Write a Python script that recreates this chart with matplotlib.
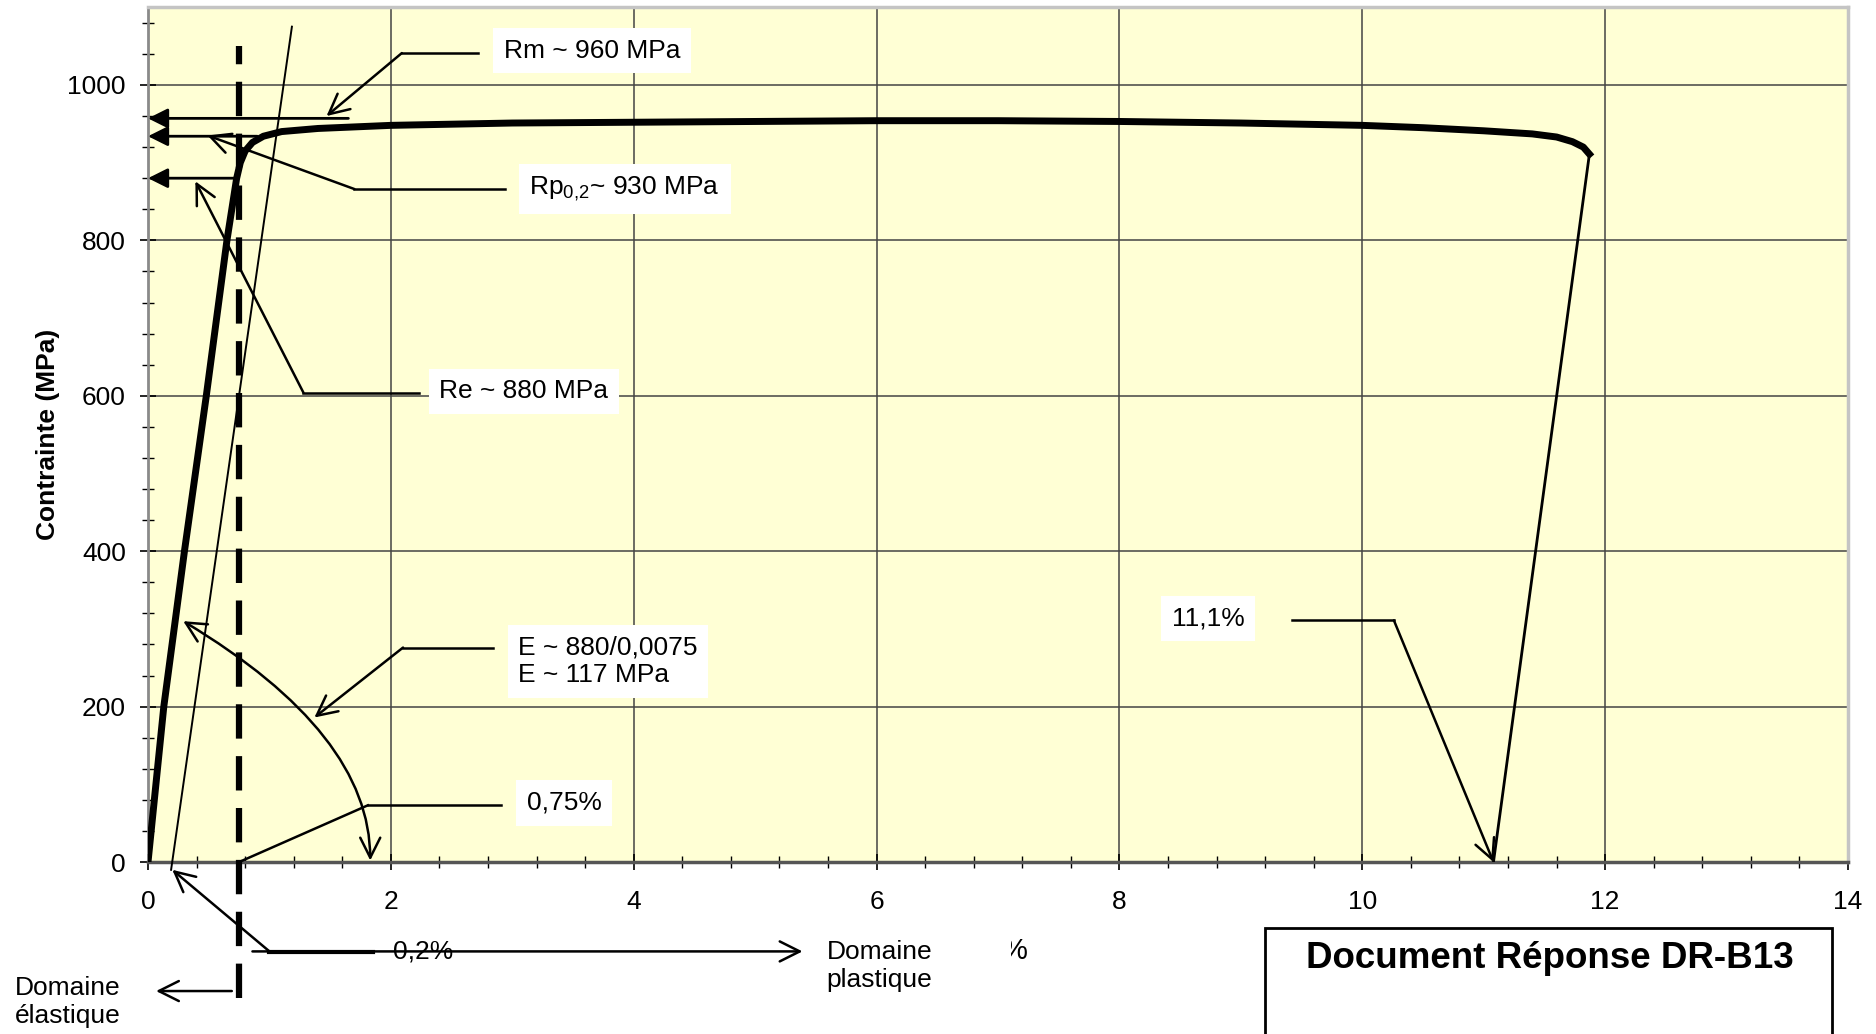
import matplotlib
matplotlib.use('Agg')
import matplotlib.pyplot as plt
from matplotlib.patches import Rectangle
from matplotlib.ticker import MultipleLocator

plt.rcParams['font.family'] = ['Liberation Sans', 'DejaVu Sans']
plt.rcParams['mathtext.default'] = 'regular'

# courbe de traction (déformation en %, contrainte en MPa)
strain = [0, 0.13, 0.30, 0.48, 0.65, 0.70, 0.73, 0.76, 0.80, 0.86, 0.95, 1.1, 1.4, 2.0,
          3, 4, 5, 6, 7, 8, 9, 10, 10.5, 11, 11.4, 11.6, 11.73, 11.82, 11.87]
stress = [0, 200, 400, 600, 800, 850, 880, 900, 915, 926, 934, 940, 944, 948,
          951, 952, 953, 954, 954, 953, 951, 948, 945, 941, 937, 933, 927, 920, 911]

# droite parallèle décalée de 0,2 % et décharge après rupture
offset_strain = [0.19, 1.185]
offset_stress = [-10, 1075]
unload_strain = [11.87, 11.08]
unload_stress = [911, 0]

limit_strain = 0.75
Rm, Rp, Re = 957, 934, 880
A_pct = 11.08

fig = plt.figure(figsize=(18.76, 10.34), dpi=100)
ax = fig.add_axes([0.0789, 0.1663, 0.9062, 0.8267])
ax.set_facecolor('#FFFFD5')
ax.set_xlim(0, 14)
ax.set_ylim(0, 1100)
ax.xaxis.set_major_locator(MultipleLocator(2))
ax.xaxis.set_minor_locator(MultipleLocator(0.4))
ax.yaxis.set_major_locator(MultipleLocator(200))
ax.yaxis.set_minor_locator(MultipleLocator(40))
ax.set_yticks([0, 200, 400, 600, 800, 1000])
ax.tick_params(which='major', direction='inout', length=12, width=1.2, labelsize=19)
ax.tick_params(which='minor', direction='inout', length=8, width=1)
ax.tick_params(axis='x', pad=14)
ax.tick_params(axis='y', pad=10)
ax.grid(True, which='major', color='#444444', lw=1.1)
ax.set_axisbelow(True)
for side in ['top', 'right']:
    ax.spines[side].set_color('#c4c4c4')
    ax.spines[side].set_linewidth(2.5)
ax.spines['left'].set_color('#8a8a8a')
ax.spines['left'].set_linewidth(2)
ax.spines['bottom'].set_color('#555555')
ax.spines['bottom'].set_linewidth(2.5)

ax.set_ylabel('Contrainte (MPa)', fontsize=19, fontweight='bold')
ax.yaxis.set_label_coords(-0.052, 0.5)

# courbes
ax.plot(strain, stress, color='black', lw=5, zorder=5)
ax.plot(offset_strain, offset_stress, color='black', lw=1.4, zorder=4, clip_on=False)
ax.plot(unload_strain, unload_stress, color='black', lw=2, zorder=4)
ax.plot([limit_strain, limit_strain], [-175, 1050], color='black', lw=4.5,
        ls=(0, (5.5, 2.8)), zorder=6, clip_on=False)

# flèches horizontales vers l'axe des contraintes
solid = dict(arrowstyle='-|>,head_length=0.6,head_width=0.3', color='black', lw=2,
             mutation_scale=20, shrinkA=0, shrinkB=0)
for x0, y0 in [(1.65, Rm), (0.9, Rp), (0.72, Re)]:
    ax.annotate('', xy=(0, y0), xytext=(x0, y0), arrowprops=solid, zorder=6)

opened = dict(arrowstyle='->,head_length=0.6,head_width=0.3', color='black', lw=1.8,
              mutation_scale=24, shrinkA=0, shrinkB=0)
box = dict(boxstyle='square,pad=0.4', fc='white', ec='none')


def callout(text, txy, line_x, tip, arrow=True):
    ax.text(txy[0], txy[1], text, fontsize=19, va='center', ha='left', bbox=box, zorder=7)
    ax.plot(line_x, [tip[2], tip[2]], color='black', lw=1.8, zorder=6)
    if arrow:
        ax.annotate('', xy=tip[:2], xytext=(line_x[1], tip[2]), arrowprops=opened, zorder=6)
    else:
        ax.plot([line_x[1], tip[0]], [tip[2], tip[1]], color='black', lw=1.8, zorder=6)


callout('Rm ~ 960 MPa', (2.93, 1044), [2.72, 2.09], (1.47, 960, 1041))
callout('Rp$_{0{,}2}$~ 930 MPa', (3.14, 866), [2.94, 1.70], (0.49, 935, 866))
callout('Re ~ 880 MPa', (2.40, 606), [2.23, 1.28], (0.39, 876, 604))
callout('E ~ 880/0,0075\nE ~ 117 MPa', (3.05, 258), [2.84, 2.10], (1.37, 186, 276))
callout('0,75%', (3.12, 76), [2.91, 1.81], (0.75, 0, 73), arrow=False)
callout('11,1%', (8.43, 313), [9.42, 10.26], (A_pct, 0, 311))

# arc du module d'élasticité
ax.annotate('', xy=(1.83, 2), xytext=(0.29, 310),
            arrowprops=dict(arrowstyle='<->,head_length=0.6,head_width=0.3', color='black',
                            lw=1.8, mutation_scale=24, shrinkA=0, shrinkB=0,
                            connectionstyle='angle3,angleA=-31,angleB=90'), zorder=6)

# légendes sous l'axe
ax.annotate('', xy=(0.2, -10), xytext=(1.0, -115), arrowprops=opened, annotation_clip=False)
ax.annotate('', xy=(5.39, -115), xytext=(0.86, -115), arrowprops=opened, annotation_clip=False)
ax.plot([1.0, 1.85], [-116, -116], color='black', lw=3, clip_on=False)
ax.text(2.02, -115, '0,2%', fontsize=19, ha='left', va='center', clip_on=False)
ax.text(5.59, -100, 'Domaine\nplastique', fontsize=19, ha='left', va='top', clip_on=False)
ax.text(-1.1, -147, 'Domaine\nélastique', fontsize=19, ha='left', va='top', clip_on=False)
ax.annotate('', xy=(0.066, -166), xytext=(0.69, -166), arrowprops=opened, annotation_clip=False)

pct = fig.text(1002 / 1876, 1 - 951 / 1034, '%', fontsize=21, ha='left', va='center')
pct.set_clip_path(Rectangle((1011 / 1876, 0.0), 0.02, 0.2, transform=fig.transFigure))

# cartouche
fig.patches.append(Rectangle((1265 / 1876, -0.01), 567 / 1876, 0.1125, transform=fig.transFigure,
                             fill=False, ec='black', lw=2))
fig.text(1550 / 1876, 1 - 959 / 1034, 'Document Réponse DR-B13', fontsize=26.5,
         fontweight='bold', ha='center', va='center')

plt.savefig('out.png', dpi=100)
